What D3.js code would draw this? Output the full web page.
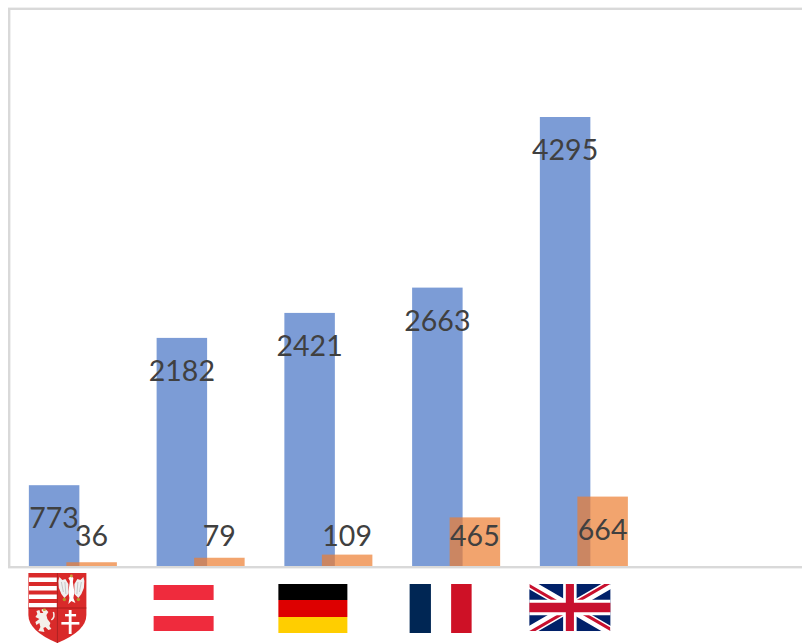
<!DOCTYPE html>
<html>
<head>
<meta charset="utf-8">
<script src="https://cdn.jsdelivr.net/npm/d3@7"></script>
<style>
  html, body { margin: 0; padding: 0; background: #fff; overflow: hidden; }
  svg { display: block; }
  text { font-family: Lato, "Open Sans", sans-serif; }
</style>
</head>
<body>
<div id="chart"></div>
<script>
// last category has no bars, the original chart keeps an empty slot there
const countries = ["Hungary", "Austria", "Germany", "France", "United Kingdom", ""];
const seriesA = [773, 2182, 2421, 2663, 4295];
const seriesB = [36, 79, 109, 465, 664];

const width = 802;
const height = 643;
const baseY = 566;
const topY = 117;

const svg = d3.select("#chart").append("svg")
    .attr("width", width)
    .attr("height", height);

const defs = svg.append("defs");
defs.append("filter").attr("id", "soft")
    .append("feGaussianBlur").attr("stdDeviation", 0.35);

const x = d3.scaleBand()
    .domain(countries)
    .range([9, 775.5])
    .paddingInner(0.311)
    .paddingOuter(0.1555);

const y = d3.scaleLinear()
    .domain([0, 4295])
    .range([baseY, topY]);

// plot frame, runs off the right edge like the source image
svg.append("rect")
    .attr("x", 9.2).attr("y", 8.8)
    .attr("width", 820).attr("height", baseY + 1.2 - 8.8)
    .attr("fill", "#fff")
    .attr("stroke", "#d9d9d9")
    .attr("stroke-width", 2.4);

const barW = 50.5;
const barStep = x.bandwidth() - barW;

function drawBars(values, cls, color, dx) {
    svg.append("g").selectAll("rect." + cls)
        .data(values)
        .enter()
        .append("rect")
        .attr("class", cls)
        .attr("x", (d, i) => x(countries[i]) + dx)
        .attr("y", d => y(d))
        .attr("width", barW)
        .attr("height", d => baseY - y(d))
        .attr("fill", color)
        .attr("fill-opacity", 0.7);
}

drawBars(seriesA, "barA", "#4472c4", 0);
drawBars(seriesB, "barB", "#ed7d31", barStep);

function drawLabels(values, dx, yPos) {
    svg.append("g").selectAll("text")
        .data(values)
        .enter()
        .append("text")
        .attr("x", (d, i) => x(countries[i]) + dx + barW / 2)
        .attr("y", yPos)
        .attr("dy", "0.36em")
        .attr("text-anchor", "middle")
        .attr("font-size", 28.5)
        .attr("fill", "#404040")
        .text(d => d);
}

drawLabels(seriesA, 0, d => y(d) + 33);
drawLabels(seriesB, barStep, d => Math.min(y(d) + 33.5, 535.5));

// flags sit a bit left of the group centre
const flagCx = i => x(countries[i]) + x.bandwidth() / 2 - 15.5;

function band(g, bx, by, w, h, color) {
    g.append("rect").attr("x", bx).attr("y", by).attr("width", w).attr("height", h).attr("fill", color);
}

function drawShield(cx) {
    const g = svg.append("g")
        .attr("transform", `translate(${cx - 29},573)`)
        .attr("filter", "url(#soft)");
    const outline = "M0,0H58V42Q58,58 29,70Q0,58 0,42Z";
    defs.append("clipPath").attr("id", "shieldClip").append("path").attr("d", outline);
    g.append("path").attr("d", outline).attr("fill", "#d92b2b");
    const inner = g.append("g").attr("clip-path", "url(#shieldClip)");
    [4.5, 13, 21.5, 30].forEach(s => band(inner, 0.5, s, 28, 4.5, "#fff"));

    // eagle
    const eagle = inner.append("g").attr("transform", "translate(43,0)");
    eagle.append("path")
        .attr("d", "M-3,11 L-6,6 L-9,7 L-12,4 L-13,8 L-12.5,15 L-10,21 L-7,25 L-3,21Z")
        .attr("fill", "#efefef");
    eagle.append("path")
        .attr("d", "M3,11 L6,6 L9,7 L12,4 L13,8 L12.5,15 L10,21 L7,25 L3,21Z")
        .attr("fill", "#efefef");
    eagle.append("path")
        .attr("d", "M-10,9L-8,19M-6.5,9L-5.5,21M6.5,9L5.5,21M10,9L8,19")
        .attr("stroke", "#b5b5b5").attr("stroke-width", 0.7).attr("fill", "none");
    eagle.append("path")
        .attr("d", "M-1.5,8 L-3,5 L0,3 L2,5 L1.5,9 L3,19 L2,25 L4,30 L0,28 L-3,31 L-2,25 L-3,19Z")
        .attr("fill", "#fff");
    eagle.append("circle").attr("cx", -7).attr("cy", 26.5).attr("r", 1.7).attr("fill", "#b8902a");
    eagle.append("circle").attr("cx", 7).attr("cy", 26.5).attr("r", 1.7).attr("fill", "#b8902a");
    eagle.append("circle").attr("cx", 0).attr("cy", 3).attr("r", 1.4).attr("fill", "#c9a53a");

    // lion
    inner.append("path")
        .attr("d", "M7,44 L9,41 L8,38 L11,37 L12,40 L15,40 L13,37 L14,36 L18,37 L20,39 L18,42 L19,46 L22,50 L21,53 L23,56 L20,57 L17,54 L15,55 L16,59 L10,58 L12,54 L11,50 L8,52 L7,49 L11,46Z")
        .attr("fill", "#f4f0ea");
    inner.append("path")
        .attr("d", "M23,47 Q27,44 25,39")
        .attr("stroke", "#f4f0ea").attr("stroke-width", 1.5).attr("fill", "none");
    inner.append("circle").attr("cx", 16).attr("cy", 36.5).attr("r", 1.6).attr("fill", "#c9a53a");

    // double cross
    band(inner, 40.4, 37, 2.8, 24, "#fff");
    band(inner, 36.7, 41, 11, 2.4, "#fff");
    band(inner, 33, 49, 18, 2.6, "#fff");

    g.append("path").attr("d", "M29,0V70M0,35H58")
        .attr("stroke", "#a81e1e").attr("stroke-width", 0.9).attr("fill", "none");
}

function drawAustria(cx) {
    const g = svg.append("g").attr("transform", `translate(${cx - 31.5},585)`);
    band(g, 0, 0, 60, 15, "#ef2b3d");
    band(g, 0, 31, 60, 15, "#ef2b3d");
}

function drawGermany(cx) {
    const g = svg.append("g").attr("transform", `translate(${cx - 34.5},584)`);
    band(g, 0, 0, 69, 16, "#000");
    band(g, 0, 16, 69, 17, "#dd0000");
    band(g, 0, 33, 69, 16, "#ffce00");
}

function drawFrance(cx) {
    const g = svg.append("g").attr("transform", `translate(${cx - 31},584)`);
    band(g, 0, 0, 21.3, 49, "#002654");
    band(g, 41.5, 0, 20.5, 49, "#ce1126");
}

function drawUK(cx) {
    defs.append("clipPath").attr("id", "ukDiag").append("path")
        .attr("d", "M30,15h30v15zv15h-30zh-30v-15zv-15h30z");
    const g = svg.append("g")
        .attr("transform", `translate(${cx - 39},584) scale(1.35,1.567)`);
    band(g, 0, 0, 60, 30, "#012169");
    g.append("path").attr("d", "M0,0L60,30M60,0L0,30").attr("stroke", "#fff").attr("stroke-width", 6);
    g.append("path").attr("d", "M0,0L60,30M60,0L0,30").attr("stroke", "#c8102e").attr("stroke-width", 4)
        .attr("clip-path", "url(#ukDiag)");
    g.append("path").attr("d", "M30,0V30M0,15H60").attr("stroke", "#fff").attr("stroke-width", 10);
    g.append("path").attr("d", "M30,0V30M0,15H60").attr("stroke", "#c8102e").attr("stroke-width", 6);
}

[drawShield, drawAustria, drawGermany, drawFrance, drawUK].forEach((draw, i) => draw(flagCx(i)));
</script>
</body>
</html>
